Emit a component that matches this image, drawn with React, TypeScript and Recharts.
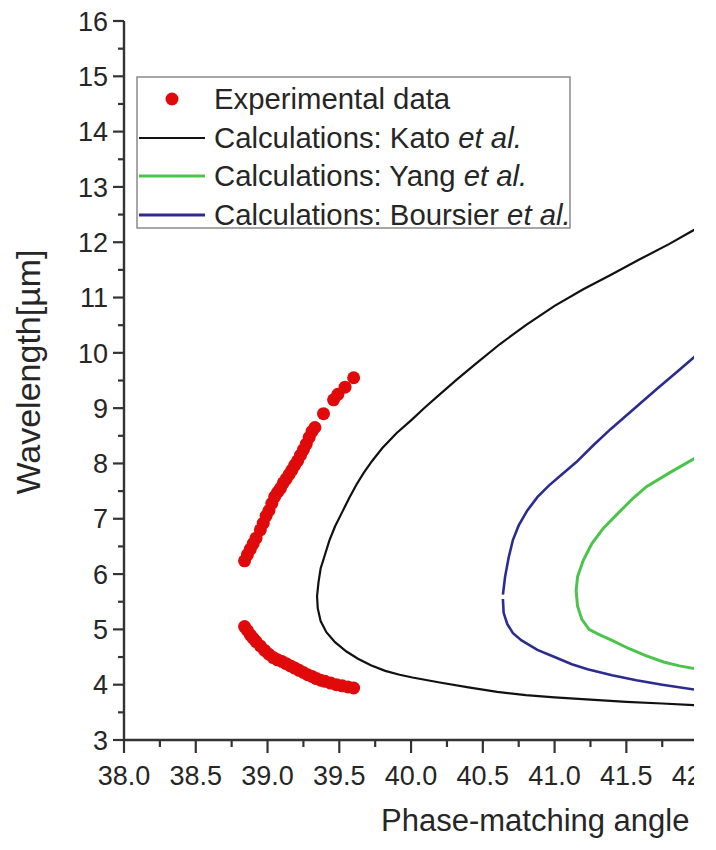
import React from 'react';
import { ScatterChart, Scatter, XAxis, YAxis } from 'recharts';

const FONT = '"Liberation Sans", Arial, Helvetica, sans-serif';
const TEXT = '#262626';
const AXIS = '#333333';

const xTicks = [38, 38.25, 38.5, 38.75, 39, 39.25, 39.5, 39.75, 40, 40.25, 40.5, 40.75, 41, 41.25, 41.5, 41.75, 42, 42.25];
const yTicks = [3, 3.5, 4, 4.5, 5, 5.5, 6, 6.5, 7, 7.5, 8, 8.5, 9, 9.5, 10, 10.5, 11, 11.5, 12, 12.5, 13, 13.5, 14, 14.5, 15, 15.5, 16];

const xTitle = 'Phase-matching angle';
const yTitle = 'Wavelength[µm]';

const legendNames = ['Experimental data', 'Calculations: Kato ', 'Calculations: Yang ', 'Calculations: Boursier '];
const legendSuffix = ['', 'et al.', 'et al.', 'et al.'];

// Experimental data (angle, wavelength)
const experimentalUpper = [
  { x: 38.84, y: 6.24 }, { x: 38.86, y: 6.35 }, { x: 38.88, y: 6.45 }, { x: 38.9, y: 6.55 },
  { x: 38.92, y: 6.65 }, { x: 38.95, y: 6.8 }, { x: 38.97, y: 6.92 }, { x: 38.99, y: 7.05 },
  { x: 39.01, y: 7.15 }, { x: 39.03, y: 7.28 }, { x: 39.05, y: 7.4 }, { x: 39.07, y: 7.48 },
  { x: 39.09, y: 7.55 }, { x: 39.11, y: 7.65 }, { x: 39.13, y: 7.72 }, { x: 39.15, y: 7.8 },
  { x: 39.17, y: 7.88 }, { x: 39.19, y: 7.97 }, { x: 39.21, y: 8.05 }, { x: 39.23, y: 8.15 },
  { x: 39.25, y: 8.25 }, { x: 39.27, y: 8.35 }, { x: 39.29, y: 8.47 }, { x: 39.31, y: 8.58 },
  { x: 39.33, y: 8.65 }, { x: 39.39, y: 8.9 }, { x: 39.46, y: 9.15 }, { x: 39.49, y: 9.25 },
  { x: 39.54, y: 9.38 }, { x: 39.6, y: 9.55 },
];
const experimentalLower = [
  { x: 38.84, y: 5.05 }, { x: 38.86, y: 4.98 }, { x: 38.88, y: 4.9 }, { x: 38.9, y: 4.84 },
  { x: 38.92, y: 4.78 }, { x: 38.95, y: 4.7 }, { x: 38.98, y: 4.62 }, { x: 39.01, y: 4.55 },
  { x: 39.04, y: 4.49 }, { x: 39.07, y: 4.45 }, { x: 39.1, y: 4.42 }, { x: 39.13, y: 4.38 },
  { x: 39.16, y: 4.34 }, { x: 39.19, y: 4.3 }, { x: 39.22, y: 4.26 }, { x: 39.25, y: 4.22 },
  { x: 39.28, y: 4.18 }, { x: 39.31, y: 4.15 }, { x: 39.34, y: 4.11 }, { x: 39.37, y: 4.08 },
  { x: 39.4, y: 4.06 }, { x: 39.44, y: 4.03 }, { x: 39.48, y: 4.0 }, { x: 39.52, y: 3.98 },
  { x: 39.56, y: 3.96 }, { x: 39.6, y: 3.94 },
];

const kato = [
  { x: 42.3, y: 12.7 }, { x: 41.97, y: 12.22 }, { x: 41.8, y: 11.97 }, { x: 41.6, y: 11.7 },
  { x: 41.4, y: 11.42 }, { x: 41.2, y: 11.15 }, { x: 41.0, y: 10.85 }, { x: 40.8, y: 10.5 },
  { x: 40.62, y: 10.16 }, { x: 40.45, y: 9.8 }, { x: 40.32, y: 9.52 }, { x: 40.2, y: 9.25 },
  { x: 40.1, y: 9.02 }, { x: 40.0, y: 8.78 }, { x: 39.9, y: 8.55 }, { x: 39.8, y: 8.28 },
  { x: 39.73, y: 8.05 }, { x: 39.67, y: 7.83 }, { x: 39.62, y: 7.62 }, { x: 39.57, y: 7.38 },
  { x: 39.52, y: 7.12 }, { x: 39.47, y: 6.86 }, { x: 39.43, y: 6.6 }, { x: 39.4, y: 6.35 },
  { x: 39.37, y: 6.1 }, { x: 39.355, y: 5.85 }, { x: 39.345, y: 5.6 }, { x: 39.35, y: 5.38 },
  { x: 39.37, y: 5.15 }, { x: 39.41, y: 4.95 }, { x: 39.47, y: 4.77 }, { x: 39.55, y: 4.6 },
  { x: 39.63, y: 4.47 }, { x: 39.72, y: 4.35 }, { x: 39.82, y: 4.25 }, { x: 39.92, y: 4.18 },
  { x: 40.01, y: 4.13 }, { x: 40.2, y: 4.04 }, { x: 40.4, y: 3.95 }, { x: 40.6, y: 3.87 },
  { x: 40.8, y: 3.81 }, { x: 41.0, y: 3.77 }, { x: 41.25, y: 3.73 }, { x: 41.5, y: 3.69 },
  { x: 41.75, y: 3.66 }, { x: 41.97, y: 3.63 }, { x: 42.3, y: 3.6 },
];

const yang = [
  { x: 42.3, y: 8.6 }, { x: 41.98, y: 8.1 }, { x: 41.8, y: 7.83 }, { x: 41.64, y: 7.58 },
  { x: 41.55, y: 7.38 }, { x: 41.45, y: 7.12 }, { x: 41.34, y: 6.83 }, { x: 41.26, y: 6.55 },
  { x: 41.2, y: 6.25 }, { x: 41.16, y: 5.95 }, { x: 41.15, y: 5.7 }, { x: 41.16, y: 5.42 },
  { x: 41.19, y: 5.18 }, { x: 41.24, y: 5.0 }, { x: 41.3, y: 4.92 }, { x: 41.4, y: 4.8 },
  { x: 41.52, y: 4.65 }, { x: 41.64, y: 4.52 }, { x: 41.76, y: 4.41 }, { x: 41.87, y: 4.34 },
  { x: 41.98, y: 4.29 }, { x: 42.3, y: 4.18 },
];

const boursierUpper = [
  { x: 40.64, y: 5.63 }, { x: 40.655, y: 5.95 }, { x: 40.68, y: 6.3 }, { x: 40.71, y: 6.62 },
  { x: 40.75, y: 6.88 }, { x: 40.81, y: 7.15 }, { x: 40.88, y: 7.39 }, { x: 40.96, y: 7.6 },
  { x: 41.05, y: 7.8 }, { x: 41.15, y: 8.02 }, { x: 41.27, y: 8.33 }, { x: 41.39, y: 8.62 },
  { x: 41.55, y: 8.98 }, { x: 41.71, y: 9.34 }, { x: 41.85, y: 9.65 }, { x: 41.98, y: 9.94 },
  { x: 42.3, y: 10.6 },
];
const boursierLower = [
  { x: 40.64, y: 5.55 }, { x: 40.645, y: 5.3 }, { x: 40.67, y: 5.1 }, { x: 40.71, y: 4.93 },
  { x: 40.77, y: 4.8 }, { x: 40.88, y: 4.63 }, { x: 41.0, y: 4.5 }, { x: 41.12, y: 4.37 },
  { x: 41.23, y: 4.28 }, { x: 41.4, y: 4.17 }, { x: 41.57, y: 4.08 }, { x: 41.75, y: 4.0 },
  { x: 41.98, y: 3.91 }, { x: 42.3, y: 3.8 },
];

const RED = '#e00a0a';
const BLACK = '#111111';
const GREEN = '#4cc44c';
const BLUE = '#2c2c90';

const isMajorX = (v: number) => Math.abs(v * 2 - Math.round(v * 2)) < 1e-6;
const isMajorY = (v: number) => Math.abs(v - Math.round(v)) < 1e-6;

const BottomTick = (props: any) => {
  const { x, y, payload } = props;
  const v = payload.value as number;
  const major = isMajorX(v);
  return (
    <g>
      <line x1={x} x2={x} y1={y} y2={y + (major ? 13 : 7)} stroke={AXIS} strokeWidth={2.2} />
      {major && (
        <text x={x} y={y + 45} textAnchor="middle" fontSize={27} fontFamily={FONT} fill={TEXT}>
          {v.toFixed(1)}
        </text>
      )}
    </g>
  );
};

const TopTick = (props: any) => {
  const { x, y, payload } = props;
  const v = payload.value as number;
  const major = isMajorX(v);
  return <line x1={x} x2={x} y1={y} y2={y + (major ? 13 : 8)} stroke={AXIS} strokeWidth={2.2} />;
};

const LeftTick = (props: any) => {
  const { x, y, payload } = props;
  const v = payload.value as number;
  const major = isMajorY(v);
  return (
    <g>
      <line x1={x - (major ? 11 : 6)} x2={x} y1={y} y2={y} stroke={AXIS} strokeWidth={2.2} />
      {major && (
        <text x={x - 16} y={y} dy="0.36em" textAnchor="end" fontSize={27} fontFamily={FONT} fill={TEXT}>
          {String(v)}
        </text>
      )}
    </g>
  );
};

const XTitle = (props: any) => {
  const vb = props.viewBox || {};
  return (
    <text x={(vb.x || 0) + 257} y={(vb.y || 0) + 91} fontSize={31} fontFamily={FONT} fill={TEXT}>
      {xTitle}
    </text>
  );
};

const YTitle = (props: any) => {
  const vb = props.viewBox || {};
  const cx = 32;
  const cy = (vb.y || 0) + 351;
  return (
    <text x={cx} y={cy} transform={`rotate(-90 ${cx} ${cy})`} textAnchor="middle" fontSize={34} fontFamily={FONT} fill={TEXT}>
      {yTitle}
    </text>
  );
};

const Dot = (props: any) => <circle cx={props.cx} cy={props.cy} r={6.5} fill={RED} />;
const NoShape = () => <g />;

const LegendBox = () => {
  const rows = [23, 62, 100, 139];
  const colors = [RED, BLACK, GREEN, BLUE];
  return (
    <svg width={436} height={154} style={{ position: 'absolute', left: 128, top: 68 }}>
      <rect x={1} y={1} width={433} height={151} fill="#fff" stroke="#8a8a8a" strokeWidth={1.5} />
      {rows.map((cy, i) => (
        <g key={i}>
          {i === 0 ? (
            <circle cx={36} cy={cy} r={6.5} fill={colors[i]} />
          ) : (
            <line x1={3} x2={69} y1={cy} y2={cy} stroke={colors[i]} strokeWidth={i === 1 ? 2.2 : 3} />
          )}
          <text x={78} y={cy + 10} fontSize={29.3} fontFamily={FONT} fill={TEXT}>
            {legendNames[i]}
            {legendSuffix[i] && <tspan fontStyle="italic">{legendSuffix[i]}</tspan>}
          </text>
        </g>
      ))}
    </svg>
  );
};

export default function App() {
  return (
    <div style={{ position: 'relative', width: 686, height: 842, overflow: 'hidden', background: '#fff' }}>
      <ScatterChart width={736} height={842} margin={{ top: 13, right: 10, left: 0, bottom: 0 }}>
        <XAxis
          xAxisId="bottom"
          dataKey="x"
          type="number"
          domain={[38, 42.25]}
          ticks={xTicks}
          interval={0}
          height={110}
          tickSize={0}
          tickMargin={0}
          tick={<BottomTick />}
          axisLine={{ stroke: AXIS, strokeWidth: 2.4 }}
          tickLine={false}
          allowDataOverflow
          label={<XTitle />}
        />
        <XAxis
          xAxisId="top"
          orientation="top"
          dataKey="x"
          type="number"
          domain={[38, 42.25]}
          ticks={xTicks}
          interval={0}
          height={0}
          tickSize={0}
          tickMargin={0}
          tick={<TopTick />}
          axisLine={{ stroke: AXIS, strokeWidth: 2.4 }}
          tickLine={false}
          allowDataOverflow
        />
        <YAxis
          dataKey="y"
          type="number"
          domain={[3, 16]}
          ticks={yTicks}
          interval={0}
          width={116}
          tickSize={0}
          tickMargin={0}
          tick={<LeftTick />}
          axisLine={{ stroke: AXIS, strokeWidth: 2.4 }}
          tickLine={false}
          allowDataOverflow
          label={<YTitle />}
        />
        <Scatter xAxisId="bottom" data={kato} line={{ stroke: BLACK, strokeWidth: 2.2 }} lineType="joint" shape={<NoShape />} isAnimationActive={false} />
        <Scatter xAxisId="bottom" data={yang} line={{ stroke: GREEN, strokeWidth: 3 }} lineType="joint" shape={<NoShape />} isAnimationActive={false} />
        <Scatter xAxisId="bottom" data={boursierUpper} line={{ stroke: BLUE, strokeWidth: 2.6 }} lineType="joint" shape={<NoShape />} isAnimationActive={false} />
        <Scatter xAxisId="bottom" data={boursierLower} line={{ stroke: BLUE, strokeWidth: 2.6 }} lineType="joint" shape={<NoShape />} isAnimationActive={false} />
        <Scatter xAxisId="bottom" data={experimentalUpper} shape={<Dot />} isAnimationActive={false} />
        <Scatter xAxisId="bottom" data={experimentalLower} shape={<Dot />} isAnimationActive={false} />
      </ScatterChart>
      <LegendBox />
    </div>
  );
}
